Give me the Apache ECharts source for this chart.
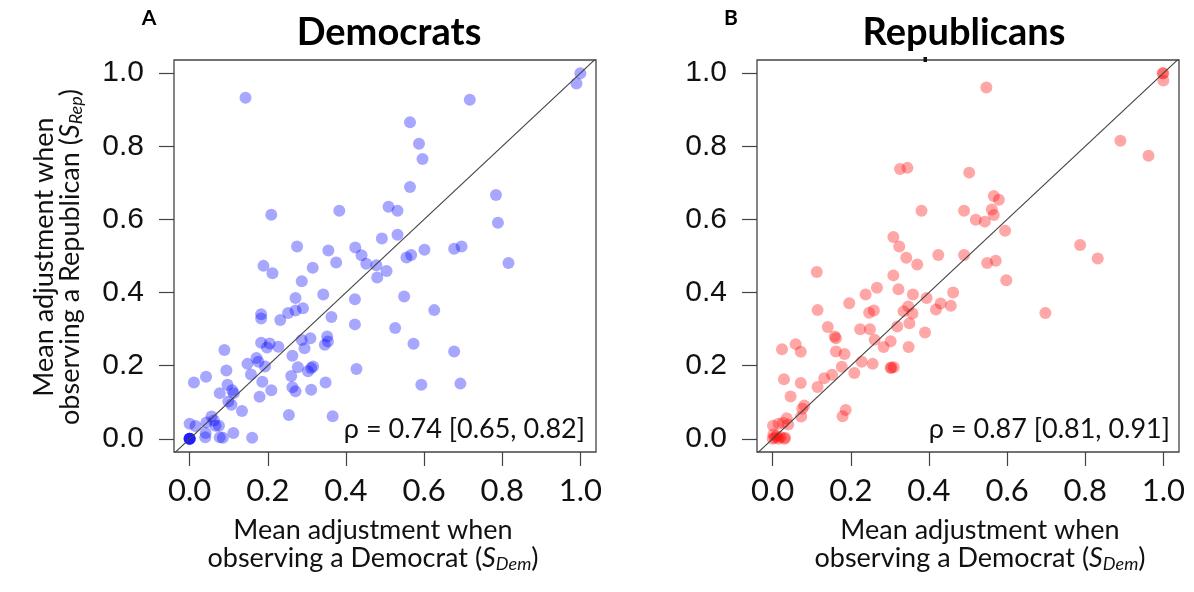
<!DOCTYPE html>
<html>
<head>
<meta charset="utf-8">
<script src="https://cdn.jsdelivr.net/npm/echarts@6/dist/echarts.min.js"></script>
<style>
  html, body { margin: 0; padding: 0; background: #fff; }
  #chart { width: 1194px; height: 592px; }
</style>
</head>
<body>
<div id="chart"></div>
<script>
// Mean adjustment per item: [S_Dem, S_Rep]
const demPoints = [
  [0.143,0.933],[0.717,0.927],[1.0,1.0],[0.99,0.972],[0.564,0.866],[0.587,0.807],[0.596,0.765],
  [0.564,0.689],[0.784,0.667],[0.789,0.591],[0.209,0.613],[0.383,0.624],[0.509,0.635],[0.532,0.624],
  [0.532,0.558],[0.492,0.548],[0.275,0.526],[0.355,0.515],[0.424,0.523],[0.440,0.502],[0.375,0.482],
  [0.452,0.479],[0.478,0.475],[0.555,0.496],[0.567,0.503],[0.601,0.517],[0.677,0.520],[0.696,0.526],
  [0.816,0.481],[0.189,0.473],[0.315,0.468],[0.504,0.459],[0.212,0.453],[0.480,0.441],[0.287,0.431],
  [0.271,0.385],[0.342,0.395],[0.423,0.382],[0.549,0.389],[0.626,0.352],[0.183,0.341],[0.183,0.329],
  [0.252,0.344],[0.271,0.351],[0.290,0.357],[0.232,0.325],[0.363,0.333],[0.423,0.313],[0.526,0.303],
  [0.183,0.263],[0.198,0.250],[0.205,0.261],[0.227,0.252],[0.287,0.270],[0.309,0.275],[0.294,0.248],
  [0.352,0.280],[0.354,0.266],[0.346,0.257],[0.573,0.260],[0.677,0.239],[0.089,0.243],[0.148,0.205],
  [0.171,0.221],[0.176,0.211],[0.193,0.198],[0.263,0.227],[0.277,0.196],[0.316,0.198],[0.311,0.194],
  [0.303,0.185],[0.427,0.191],[0.094,0.187],[0.042,0.170],[0.157,0.176],[0.260,0.172],[0.011,0.154],
  [0.097,0.148],[0.186,0.156],[0.348,0.154],[0.593,0.148],[0.693,0.151],[0.077,0.125],[0.109,0.133],
  [0.113,0.125],[0.209,0.133],[0.263,0.141],[0.271,0.130],[0.311,0.134],[0.179,0.115],[0.099,0.102],
  [0.107,0.093],[0.134,0.076],[0.254,0.065],[0.366,0.062],[0.056,0.061],[0.062,0.050],[0.075,0.036],
  [0.066,0.036],[0.043,0.045],[0.0,0.041],[0.015,0.035],[0.041,0.016],[0.040,0.004],[0.112,0.016],
  [0.077,0.004],[0.085,0.003],[0.160,0.003],
  [0,0],[0,0],[0,0],[0,0],[0,0]
];

const repPoints = [
  [0.998,1.0],[1.0,1.0],[1.0,0.98],[0.547,0.961],[0.890,0.815],[0.962,0.774],[0.326,0.738],
  [0.345,0.741],[0.503,0.728],[0.566,0.664],[0.579,0.654],[0.381,0.624],[0.490,0.624],[0.561,0.627],
  [0.566,0.612],[0.520,0.599],[0.543,0.594],[0.595,0.569],[0.309,0.552],[0.324,0.526],[0.787,0.530],
  [0.832,0.493],[0.342,0.495],[0.370,0.477],[0.424,0.503],[0.490,0.503],[0.549,0.481],[0.571,0.487],
  [0.113,0.456],[0.309,0.447],[0.598,0.434],[0.698,0.344],[0.238,0.395],[0.267,0.413],[0.322,0.409],
  [0.359,0.395],[0.394,0.385],[0.462,0.400],[0.430,0.370],[0.418,0.354],[0.456,0.364],[0.115,0.352],
  [0.196,0.371],[0.247,0.345],[0.259,0.351],[0.335,0.349],[0.347,0.362],[0.358,0.343],[0.350,0.316],
  [0.319,0.307],[0.390,0.291],[0.141,0.306],[0.224,0.300],[0.249,0.300],[0.159,0.280],[0.162,0.275],
  [0.261,0.271],[0.302,0.267],[0.284,0.251],[0.348,0.251],[0.024,0.245],[0.059,0.259],[0.072,0.238],
  [0.162,0.239],[0.184,0.232],[0.228,0.211],[0.256,0.205],[0.304,0.195],[0.302,0.194],[0.310,0.196],
  [0.177,0.197],[0.209,0.180],[0.132,0.166],[0.152,0.175],[0.029,0.163],[0.072,0.153],[0.115,0.142],
  [0.046,0.116],[0.081,0.091],[0.076,0.082],[0.073,0.061],[0.187,0.079],[0.179,0.062],[0.036,0.056],
  [0.040,0.039],[0.027,0.044],[0.001,0.036],[0.015,0.041],
  [0,0],[0.005,0.003],[0.010,0.008],[0.020,0.005],[0.030,0.0],[0.002,0.012],[0.015,0.0],[0.032,0.003]
];

const tickValues = [0.0, 0.2, 0.4, 0.6, 0.8, 1.0];
const panelTitles = ['Democrats', 'Republicans'];
const panelLetters = ['A', 'B'];
const rhoLabels = ['\u03c1 = 0.74 [0.65, 0.82]', '\u03c1 = 0.87 [0.81, 0.91]'];
const xRange = [-0.04, 1.04];
const yRange = [-0.036, 1.036];

const INK = '#111';
const TITLE_SIZE = 27;
const panels = [
  { left: 174, data: demPoints, color: 'rgba(0,0,255,0.43)', titleX: 389, letterX: 149, xTitleX: 373, rhoX: 585 },
  { left: 757, data: repPoints, color: 'rgba(255,0,0,0.43)', titleX: 964, letterX: 731, xTitleX: 980, rhoX: 1170 }
];

function makeAxis(kind, gi) {
  const isX = kind === 'x';
  return {
    type: 'value',
    gridIndex: gi,
    min: isX ? xRange[0] : yRange[0],
    max: isX ? xRange[1] : yRange[1],
    axisLine: { show: false, onZero: false },
    splitLine: { show: false },
    axisTick: {
      show: true, inside: false, length: isX ? 14 : 15,
      customValues: tickValues,
      lineStyle: { color: '#444', width: 1.2 }
    },
    axisLabel: {
      show: true,
      customValues: tickValues,
      formatter: v => v.toFixed(1),
      color: INK,
      fontFamily: isX ? 'Lato' : '"Liberation Sans", Arial',
      fontSize: isX ? 31 : 30,
      margin: isX ? 39 : 30,
      verticalAlign: 'middle'
    }
  };
}

const subRich = {
  n: { fontFamily: 'Lato', fontSize: TITLE_SIZE, fill: INK, lineHeight: 30 },
  s: { fontFamily: 'Lato', fontSize: TITLE_SIZE, fontStyle: 'italic', fill: INK, lineHeight: 30 },
  sub: { fontFamily: 'Lato', fontSize: 18, fontStyle: 'italic', fill: INK, lineHeight: 8, verticalAlign: 'bottom' }
};

const graphic = [];
panels.forEach((p, i) => {
  graphic.push({ type: 'text', x: p.titleX, y: 33, style: { text: panelTitles[i], font: 'bold 38px Lato', fill: '#000', textAlign: 'center', textVerticalAlign: 'middle' } });
  graphic.push({ type: 'text', x: p.letterX, y: 18, style: { text: panelLetters[i], font: 'bold 21px Lato', fill: '#000', textAlign: 'center', textVerticalAlign: 'middle' } });
  graphic.push({ type: 'text', x: p.rhoX, y: 429, style: { text: rhoLabels[i], font: '27px Lato', fill: INK, textAlign: 'right', textVerticalAlign: 'middle' } });
  graphic.push({ type: 'text', x: p.xTitleX, y: 530, style: { text: 'Mean adjustment when', font: TITLE_SIZE + 'px Lato', fill: INK, textAlign: 'center', textVerticalAlign: 'middle' } });
  graphic.push({ type: 'text', x: p.xTitleX, y: 558, style: {
    text: '{n|observing a Democrat (}{s|S}{sub|Dem}{n|)}',
    font: TITLE_SIZE + 'px Lato', fill: INK, textAlign: 'center', textVerticalAlign: 'middle',
    rich: subRich
  } });
});

// vertical title of the left panel
graphic.push({
  type: 'group', x: 56, y: 257, rotation: Math.PI / 2,
  children: [
    { type: 'text', x: 0, y: -12, style: { text: 'Mean adjustment when', font: TITLE_SIZE + 'px Lato', fill: INK, textAlign: 'center', textVerticalAlign: 'middle' } },
    { type: 'text', x: 0, y: 14, style: {
      text: '{n|observing a Republican (}{s|S}{sub|Rep}{n|)}',
      font: TITLE_SIZE + 'px Lato', fill: INK, textAlign: 'center', textVerticalAlign: 'middle',
      rich: subRich
    } }
  ]
});

// small stray tick on the top edge of panel B
graphic.push({ type: 'rect', shape: { x: 923.5, y: 57, width: 3.5, height: 5 }, style: { fill: '#111' } });

const option = {
  backgroundColor: '#fff',
  animation: false,
  grid: panels.map(p => ({
    left: p.left, top: 60, width: 422, height: 392,
    show: true, borderColor: '#444', borderWidth: 1.3, backgroundColor: '#fff'
  })),
  xAxis: panels.map((p, i) => makeAxis('x', i)),
  yAxis: panels.map((p, i) => makeAxis('y', i)),
  series: panels.flatMap((p, i) => [
    {
      type: 'scatter', xAxisIndex: i, yAxisIndex: i,
      data: p.data, symbol: 'circle', symbolSize: 12,
      itemStyle: { color: p.color, borderWidth: 0 },
      silent: true, z: 2
    },
    {
      type: 'line', xAxisIndex: i, yAxisIndex: i,
      data: [[xRange[0], xRange[0]], [xRange[1], xRange[1]]],
      symbol: 'none', clip: true, silent: true, z: 3,
      lineStyle: { color: '#444', width: 1.1 }
    }
  ]),
  graphic: graphic
};

const chart = echarts.init(document.getElementById('chart'), null, { renderer: 'canvas' });
chart.setOption(option);
</script>
</body>
</html>
